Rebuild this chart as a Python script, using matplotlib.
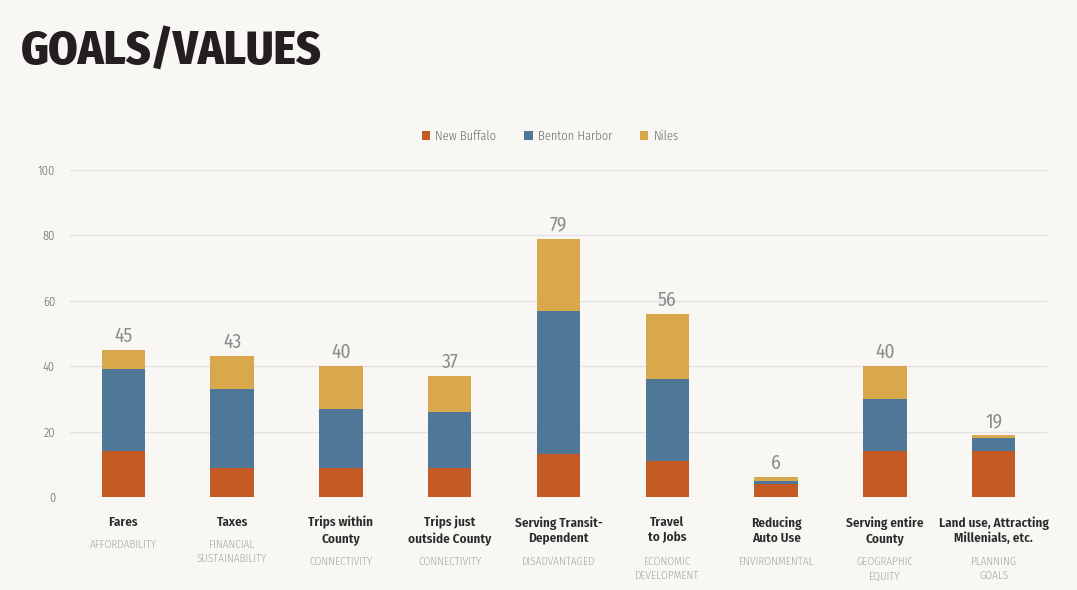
import matplotlib
matplotlib.use("Agg")
import matplotlib.pyplot as plt
from matplotlib.patches import Patch
import numpy as np

# Data
categories = ["Fares", "Taxes", "Trips within\nCounty", "Trips just\noutside County",
              "Serving Transit-\nDependent", "Travel\nto Jobs", "Reducing\nAuto Use",
              "Serving entire\nCounty", "Land use, Attracting\nMillenials, etc."]
subcategories = ["AFFORDABILITY", "FINANCIAL\nSUSTAINABILITY", "CONNECTIVITY", "CONNECTIVITY",
                 "DISADVANTAGED", "ECONOMIC\nDEVELOPMENT", "ENVIRONMENTAL",
                 "GEOGRAPHIC\nEQUITY", "PLANNING\nGOALS"]
new_buffalo = [14, 9, 9, 9, 13, 11, 4, 14, 14]
benton_harbor = [25, 24, 18, 17, 44, 25, 1, 16, 4]
niles = [6, 10, 13, 11, 22, 20, 1, 10, 1]
series_names = ["New Buffalo", "Benton Harbor", "Niles"]
y_ticks = [0, 20, 40, 60, 80, 100]

colors = ["#c45b24", "#4f7898", "#d9a84b"]
BG = "#f8f7f4"
FONT = ["Fira Sans Condensed", "DejaVu Sans"]

PX = 0.72  # points per pixel at dpi=100

fig = plt.figure(figsize=(10.77, 5.90), dpi=100, facecolor=BG)
ax = fig.add_axes([70 / 1077, 93 / 590, 977 / 1077, 327 / 590])
ax.set_facecolor(BG)

x = np.arange(len(categories))
width = 0.40
bottom = np.zeros(len(categories))
for vals, col, name in zip([new_buffalo, benton_harbor, niles], colors, series_names):
    ax.bar(x, vals, width, bottom=bottom, color=col, label=name, zorder=3)
    bottom += np.array(vals)

totals = bottom
for xi, t in zip(x, totals):
    ax.annotate(f"{int(t)}", (xi, t), xytext=(0, 8 * PX), textcoords="offset points",
                ha="center", va="baseline", fontsize=14, fontweight=400,
                color="#8c8c8c", family=FONT, annotation_clip=False)

ax.set_xlim(-0.49, 8.49)
ax.set_ylim(0, 100)
ax.set_yticks(y_ticks)
ax.yaxis.grid(True, color="#e2e2e2", lw=1.0, zorder=0)
ax.tick_params(axis="y", length=0, pad=15 * PX, labelsize=9, labelcolor="#666666")
for lab in ax.get_yticklabels():
    lab.set_family(FONT)
    lab.set_fontweight(300)
ax.set_xticks([])
for s in ax.spines.values():
    s.set_visible(False)

trans = ax.get_xaxis_transform()
for xi, name, sub in zip(x, categories, subcategories):
    ax.annotate(name, (xi, 0), xycoords=trans, xytext=(0, -19 * PX), textcoords="offset points",
                ha="center", va="top", fontsize=9.5, fontweight=600, color="#2a2a2a",
                family=FONT, linespacing=1.3, annotation_clip=False)
    nlines = name.count("\n") + 1
    sub_off = 43 if nlines == 1 else 60
    ax.annotate(sub, (xi, 0), xycoords=trans, xytext=(0, -sub_off * PX), textcoords="offset points",
                ha="center", va="top", fontsize=8, fontweight=300, color="#a5a5a5",
                family=FONT, linespacing=1.3, annotation_clip=False)

handles = [Patch(facecolor=c, label=n) for c, n in zip(colors, series_names)]
fig.legend(handles=handles, loc="center", bbox_to_anchor=(550 / 1077, 1 - 136 / 590), ncol=3,
           frameon=False, handlelength=0.7, handleheight=0.7, handletextpad=0.4,
           columnspacing=2.2, prop={"family": FONT, "size": 9, "weight": 300},
           labelcolor="#666666")

fig.text(21 / 1077, 1 - 52 / 590, "GOALS/VALUES", ha="left", va="center",
         fontsize=34, fontweight=800, color="#231f20", family=FONT)

fig.savefig("out.png", dpi=100, facecolor=BG)
